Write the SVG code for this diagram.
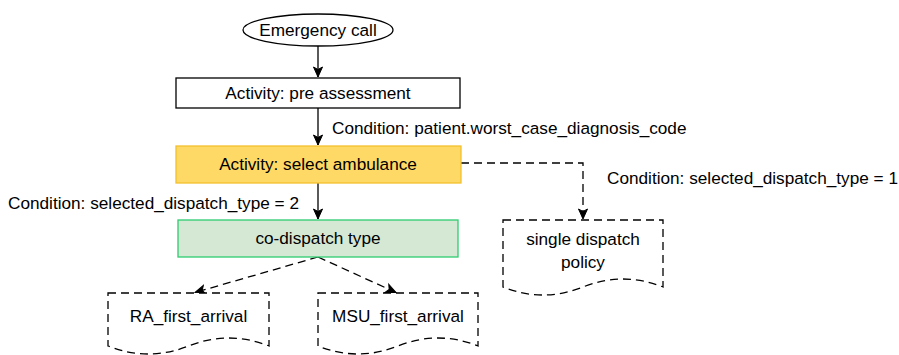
<svg xmlns="http://www.w3.org/2000/svg" width="899" height="355" viewBox="0 0 899 355">
  <style>
    text { font-family: "Liberation Sans", Arial, sans-serif; font-size: 17.2px; fill: #000; }
    .mid { text-anchor: middle; }
    .box { fill: #fff; stroke: #000; stroke-width: 1.3; }
    .doc { fill: #fff; stroke: #000; stroke-width: 1.3; stroke-dasharray: 8 5; }
    .edge { fill: none; stroke: #000; stroke-width: 1.3; }
    .dash { stroke-dasharray: 8 5; }
  </style>
  <defs>
    <marker id="arrow" markerUnits="userSpaceOnUse" markerWidth="12" markerHeight="12" viewBox="0 0 12 12" refX="11" refY="6" orient="auto">
      <path d="M1,1.5 L11,6 L1,10.5 L3.5,6 Z" fill="#000" stroke="#000" stroke-width="1"/>
    </marker>
  </defs>

  <g id="connectors">
    <path class="edge" d="M318,46 V77" marker-end="url(#arrow)"/>
    <path class="edge" d="M318,108 V145" marker-end="url(#arrow)"/>
    <path class="edge" d="M318,183 V219" marker-end="url(#arrow)"/>
    <path class="edge dash" d="M461,163 H583 V219" marker-end="url(#arrow)"/>
    <path class="edge dash" d="M318,257 L195,292.5" marker-end="url(#arrow)"/>
    <path class="edge dash" d="M318,257 L396,292.5" marker-end="url(#arrow)"/>
    <text x="332" y="134">Condition: patient.worst_case_diagnosis_code</text>
    <text x="607" y="184">Condition: selected_dispatch_type = 1</text>
    <text x="8" y="209">Condition: selected_dispatch_type = 2</text>
  </g>

  <g id="emergency-call">
    <ellipse class="box" cx="318" cy="30" rx="75" ry="16"/>
    <text class="mid" x="318" y="36">Emergency call</text>
  </g>

  <g id="pre-assessment">
    <rect class="box" x="176" y="78" width="284" height="30"/>
    <text class="mid" x="318" y="99">Activity: pre assessment</text>
  </g>

  <g id="select-ambulance">
    <rect x="176" y="146" width="285" height="37" fill="#FFD966" stroke="#F2C12E" stroke-width="1.3"/>
    <text class="mid" x="318" y="170">Activity: select ambulance</text>
  </g>

  <g id="co-dispatch-type">
    <rect x="178" y="220" width="280" height="37" fill="#D5E8D4" stroke="#2ECC71" stroke-width="1.3"/>
    <text class="mid" x="318" y="244">co-dispatch type</text>
  </g>

  <g id="single-dispatch-policy">
    <path class="doc" d="M503,220 H663 V287 Q623,271 583,287 Q543,303 503,287 Z"/>
    <text class="mid" x="583" y="245">single dispatch</text>
    <text class="mid" x="583" y="268">policy</text>
  </g>

  <g id="ra-first-arrival">
    <path class="doc" d="M108,293 H269 V346 Q228.75,330 188.5,346 Q148.25,362 108,346 Z"/>
    <text class="mid" x="188.5" y="322">RA_first_arrival</text>
  </g>

  <g id="msu-first-arrival">
    <path class="doc" d="M318,293 H478 V346 Q438,330 398,346 Q358,362 318,346 Z"/>
    <text class="mid" x="398" y="322">MSU_first_arrival</text>
  </g>
</svg>
